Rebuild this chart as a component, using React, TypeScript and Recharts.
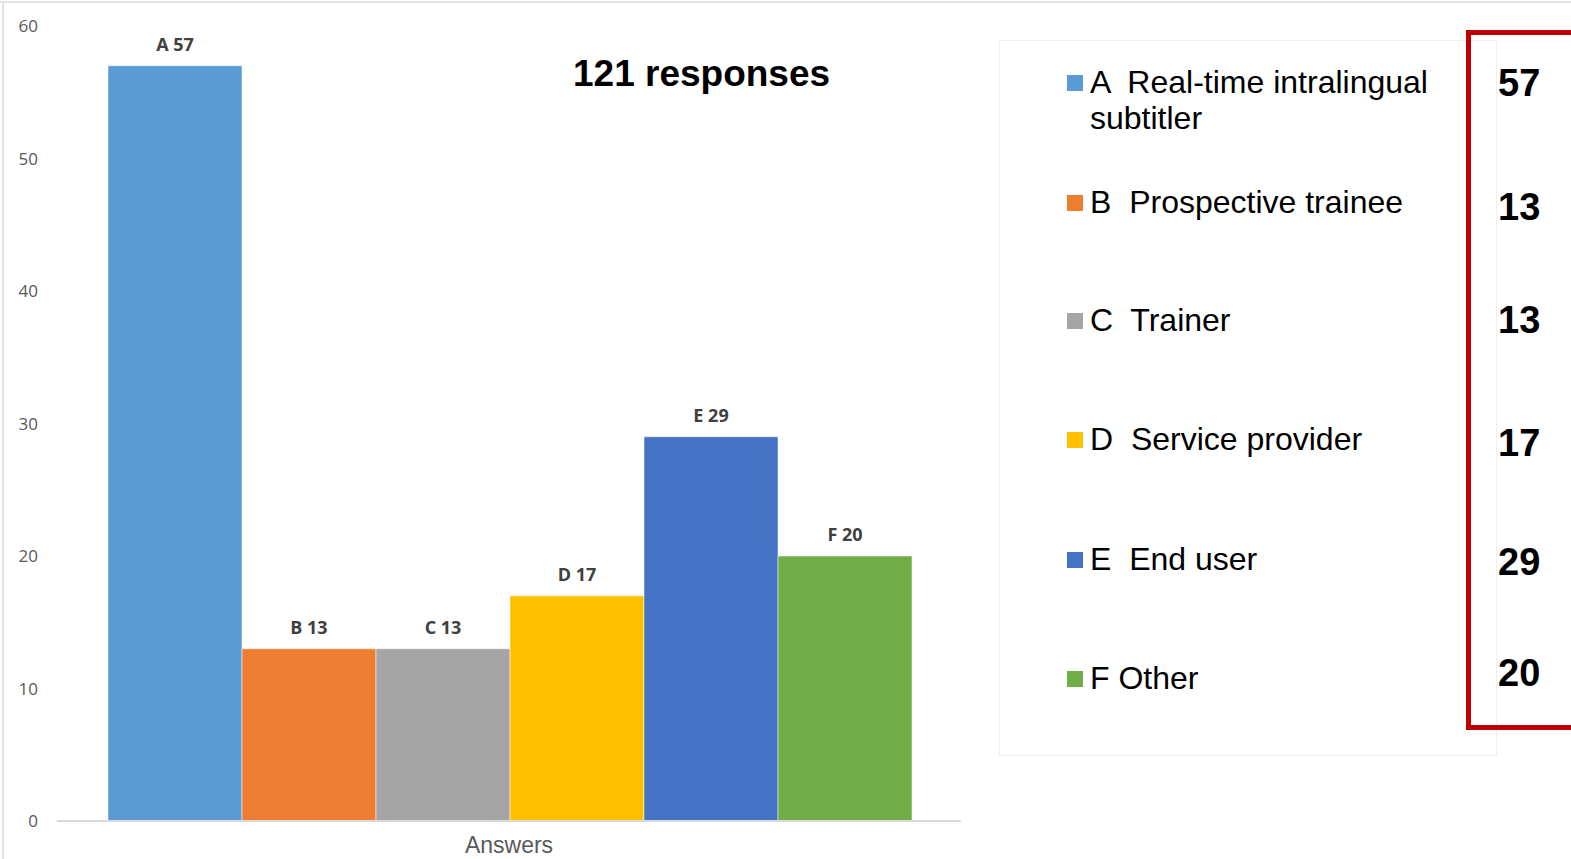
import { BarChart, Bar, XAxis, YAxis, LabelList } from "recharts";

const categories = ["Answers"];
const seriesKeys = ["A", "B", "C", "D", "E", "F"];
const seriesValues = [57, 13, 13, 17, 29, 20];
const seriesNames = [
  "Real-time intralingual subtitler",
  "Prospective trainee",
  "Trainer",
  "Service provider",
  "End user",
  "Other",
];
const colors = ["#5b9bd5", "#ed7d31", "#a5a5a5", "#ffc000", "#4472c4", "#70ad47"];
const yTicks = [0, 10, 20, 30, 40, 50, 60];
const title = "121 responses";

// legend row centres (px from top of the page)
const rowTops = [83, 203, 321, 440, 560, 679];
const numberTops = [83, 207, 320, 443, 562, 673];

const chartData = categories.map((c) => {
  const row: Record<string, string | number> = { name: c };
  seriesKeys.forEach((k, i) => (row[k] = seriesValues[i]));
  return row;
});

const sans = "'Liberation Sans', Arial, sans-serif";

export default function App() {
  return (
    <div style={{ position: "absolute", left: 0, top: 0, width: 1571, height: 859, background: "#fff", overflow: "hidden" }}>
      {/* outer frame */}
      <div style={{ position: "absolute", left: 0, top: 1, width: 1571, height: 2, background: "#e2e2e2" }} />
      <div style={{ position: "absolute", left: 2, top: 1, width: 2, height: 859, background: "#e2e2e2" }} />

      <BarChart
        width={1571}
        height={859}
        data={chartData}
        margin={{ top: 26, right: 610, left: 0, bottom: 0 }}
        barGap={0}
        barCategoryGap={51}
      >
        <XAxis
          dataKey="name"
          height={38}
          tickLine={false}
          axisLine={{ stroke: "#d9d9d9", strokeWidth: 2 }}
          tick={{ fontSize: 23, fill: "#595959", fontFamily: sans }}
          tickMargin={10}
        />
        <YAxis
          width={57}
          domain={[0, 60]}
          ticks={yTicks}
          axisLine={false}
          tickLine={false}
          tickMargin={13}
          tick={{ fontSize: 17, fill: "#595959", fontFamily: "'Open Sans', sans-serif" }}
        />
        {seriesKeys.map((k, i) => (
          <Bar key={k} dataKey={k} fill={colors[i]} stroke="#ffffff" strokeWidth={0.5} isAnimationActive={false}>
            <LabelList
              dataKey={k}
              position="top"
              offset={15}
              formatter={(v: any) => `${k} ${v}`}
              style={{ fontSize: 18, fontWeight: 700, fill: "#404040", fontFamily: "'Open Sans', sans-serif" }}
            />
          </Bar>
        ))}
      </BarChart>

      {/* title */}
      <div
        style={{
          position: "absolute",
          left: 573,
          top: 53,
          fontFamily: sans,
          fontWeight: 700,
          fontSize: 37,
          color: "#000",
          whiteSpace: "nowrap",
        }}
      >
        {title}
      </div>

      {/* legend box */}
      <div
        style={{
          position: "absolute",
          left: 999,
          top: 40,
          width: 496,
          height: 714,
          border: "1.5px solid #efefef",
        }}
      />
      {seriesKeys.map((k, i) => (
        <div key={k}>
          <div
            style={{
              position: "absolute",
              left: 1067,
              top: rowTops[i] - 8,
              width: 16,
              height: 16,
              background: colors[i],
            }}
          />
          <div
            style={{
              position: "absolute",
              left: 1090,
              top: rowTops[i] - 19,
              width: 370,
              fontFamily: sans,
              fontSize: 32,
              lineHeight: "36px",
              color: "#000",
              whiteSpace: "pre-wrap",
            }}
          >
            {k + (k === "F" ? " " : "  ") + seriesNames[i]}
          </div>
        </div>
      ))}

      {/* red box with totals */}
      <div
        style={{
          position: "absolute",
          left: 1466,
          top: 30,
          width: 140,
          height: 690,
          border: "5px solid #c00000",
        }}
      />
      {seriesValues.map((v, i) => (
        <div
          key={i}
          style={{
            position: "absolute",
            left: 1498,
            top: numberTops[i] - 22,
            fontFamily: sans,
            fontWeight: 700,
            fontSize: 38,
            lineHeight: "44px",
            color: "#000",
          }}
        >
          {v}
        </div>
      ))}
    </div>
  );
}
